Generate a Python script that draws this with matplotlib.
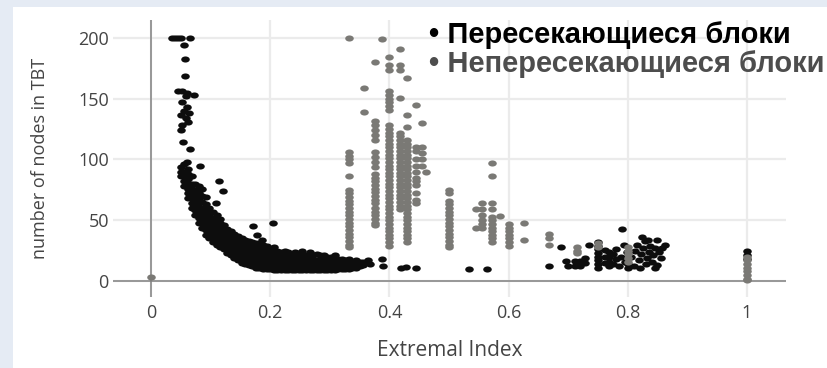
import numpy as np
import matplotlib.pyplot as plt
from matplotlib.path import Path
from matplotlib.patches import Rectangle
from matplotlib.transforms import Affine2D

# intersecting blocks: extremal index vs number of nodes in TBT
hit_head = [
    (0.035, 200), (0.040, 200), (0.045, 200), (0.050, 200), (0.065, 200),
    (0.055, 194), (0.057, 183), (0.057, 169),
    (0.045, 156), (0.052, 156), (0.060, 155), (0.072, 153), (0.058, 152),
    (0.052, 147), (0.060, 143), (0.055, 140), (0.063, 138), (0.050, 137),
    (0.058, 134), (0.062, 131), (0.052, 128), (0.050, 124), (0.053, 114),
    (0.065, 109), (0.060, 98), (0.082, 95), (0.114, 82), (0.121, 74),
    (0.109, 64), (0.205, 48), (0.171, 45), (0.178, 38), (0.186, 34),
]
hit_band = [
    (0.050, [86, 90, 94]),
    (0.056, [78, 82, 86, 90, 96]),
    (0.062, [68, 72, 76, 80, 84, 88, 92]),
    (0.068, [60, 64, 68, 72, 76, 80, 86]),
    (0.074, [54, 58, 62, 66, 70, 75, 80]),
    (0.080, [48, 52, 56, 60, 64, 68, 72, 78]),
    (0.086, [44, 48, 52, 56, 60, 65, 70, 76]),
    (0.092, [38, 42, 46, 50, 54, 58, 63, 69]),
    (0.098, [35, 39, 43, 47, 51, 55, 60]),
    (0.104, [32, 36, 40, 44, 48, 52, 57]),
    (0.110, [30, 34, 38, 42, 46, 50, 54]),
    (0.116, [28, 32, 36, 40, 44, 48, 51]),
    (0.122, [26, 30, 34, 38, 42, 46]),
    (0.128, [23, 27, 31, 35, 39, 43]),
    (0.134, [21, 25, 29, 33, 37, 41]),
    (0.140, [19, 23, 27, 31, 35, 39]),
    (0.146, [17, 21, 25, 29, 33, 37]),
    (0.152, [15, 19, 23, 27, 31, 35]),
    (0.158, [14, 18, 22, 26, 30, 34]),
    (0.164, [13, 17, 21, 25, 29, 33]),
    (0.170, [12, 16, 20, 24, 28, 32]),
    (0.176, [11, 15, 19, 23, 27, 31]),
    (0.182, [11, 15, 19, 23, 27, 30]),
    (0.188, [10, 14, 18, 22, 26, 30]),
    (0.194, [10, 14, 18, 22, 26, 29]),
    (0.200, [10, 14, 18, 22, 26]),
    (0.206, [9, 13, 17, 21, 25, 28]),
    (0.212, [9, 13, 17, 21, 25]),
    (0.218, [9, 13, 17, 21, 24]),
    (0.224, [9, 13, 17, 21, 25]),
    (0.230, [9, 13, 17, 21, 24]),
    (0.236, [9, 13, 17, 21]),
    (0.242, [9, 13, 17, 21, 24]),
    (0.248, [9, 13, 17, 21]),
    (0.254, [9, 13, 17, 21, 25]),
    (0.260, [9, 13, 17, 21]),
    (0.266, [9, 13, 17, 21, 24]),
    (0.272, [9, 13, 17, 21]),
    (0.278, [9, 13, 17, 22]),
    (0.284, [9, 13, 17, 21]),
    (0.290, [9, 13, 17, 21]),
    (0.296, [9, 13, 17, 20]),
    (0.302, [9, 13, 17, 20]),
    (0.308, [9, 13, 17, 21]),
    (0.314, [10, 14, 18]),
    (0.320, [10, 14, 18]),
    (0.326, [10, 14, 17]),
    (0.332, [10, 14, 18]),
    (0.338, [11, 15]),
    (0.344, [11, 15, 17]),
    (0.350, [12, 16]),
    (0.356, [13, 16]),
]
hit_tail = [
    (0.364, 17), (0.368, 14), (0.387, 18), (0.390, 12), (0.420, 10.5),
    (0.428, 11.5), (0.445, 10.7), (0.534, 10), (0.563, 10), (0.667, 12),
    (0.688, 28),
]
hit_right = [
    (0.697, 16.5), (0.700, 12), (0.711, 16.5), (0.711, 12), (0.720, 16.5),
    (0.720, 12), (0.728, 19), (0.728, 14.6), (0.735, 29.6),
    (0.750, 11), (0.750, 14), (0.750, 17), (0.750, 20), (0.750, 23),
    (0.750, 26), (0.750, 29), (0.750, 32),
    (0.762, 25.5), (0.762, 20), (0.762, 15),
    (0.768, 12), (0.768, 16), (0.768, 20), (0.768, 24),
    (0.775, 14), (0.775, 22), (0.780, 18), (0.780, 26), (0.785, 12),
    (0.788, 20), (0.790, 42.8), (0.793, 29.6), (0.795, 16), (0.798, 24),
    (0.800, 11), (0.800, 14), (0.805, 20), (0.810, 12), (0.812, 25),
    (0.815, 30), (0.818, 17), (0.820, 10.7), (0.822, 22), (0.823, 36.5),
    (0.826, 27), (0.828, 33), (0.830, 14), (0.832, 19), (0.834, 33.7),
    (0.836, 24), (0.838, 29), (0.840, 16), (0.842, 21), (0.845, 27),
    (0.849, 33.7), (0.849, 13), (0.852, 24), (0.855, 19), (0.858, 27),
    (0.862, 29.6), (0.845, 11),
    (1.0, 25), (1.0, 21), (1.0, 18),
]

# non-intersecting blocks, stacked by extremal index value
miss_cols = [
    (0.0, [3]),
    (0.333, [200, 106, 103, 100, 97, 86, 75, 72, 69, 66, 63, 60, 57, 54, 51,
             48, 45, 42, 39, 36, 33, 30, 28]),
    (0.358, [159, 139]),
    (0.375, [180, 132, 128, 124, 120, 116, 106, 102, 98, 94, 88, 85, 82, 79,
             76, 73, 70, 67, 64, 60, 57, 54, 51, 48, 46]),
    (0.387, [199]),
    (0.400, [184, 178, 174, 156, 153, 150, 147, 144, 141, 128, 125, 122, 119,
             116, 113, 110, 107, 104, 101, 98, 95, 92, 89, 86, 83, 80, 77, 74,
             71, 68, 65, 62, 59, 56, 53, 50, 47, 44, 41, 38, 35, 32, 29]),
    (0.417, [191, 178, 174, 151, 122, 119, 116, 113, 110, 107, 104, 101, 98,
             95, 92, 89, 86, 83, 80, 77, 74, 71, 68, 65, 62, 59]),
    (0.429, [167, 137, 127, 116, 113, 110, 107, 104, 101, 98, 95, 92, 89, 86,
             83, 80, 77, 74, 71, 68, 65, 62, 59, 56, 53, 50, 47, 44, 41, 38,
             35, 32]),
    (0.445, [145, 110, 107, 100, 95, 90, 85, 82, 79, 72, 67, 64]),
    (0.454, [130, 110, 105, 100, 95]),
    (0.462, [90]),
    (0.500, [75, 72, 66, 63, 60, 57, 54, 51, 48, 45, 42, 39, 36, 33, 30, 28]),
    (0.545, [59, 44]),
    (0.556, [64, 59, 54, 50, 47, 44]),
    (0.572, [97, 86, 64, 59, 53, 50, 47, 44, 41, 38, 35, 32]),
    (0.585, [53.5]),
    (0.600, [47, 44, 41, 38, 35, 32, 29]),
    (0.626, [47.5, 34]),
    (0.667, [39, 35, 30]),
    (0.714, [28, 25, 23]),
    (0.750, [31, 28]),
    (0.800, [28, 25, 22, 19, 16]),
    (1.000, [20, 17, 14, 11, 8, 5, 2, 1]),
]

x_ticks = [0, 0.2, 0.4, 0.6, 0.8, 1]
x_labels = ['0', '0.2', '0.4', '0.6', '0.8', '1']
y_ticks = [0, 50, 100, 150, 200]

hit_pts = hit_head + [(x, y) for x, ys in hit_band for y in ys] + hit_tail + hit_right
hit = np.array(hit_pts, dtype=float)
miss = np.array([(x, y) for x, ys in miss_cols for y in ys], dtype=float)

plt.rcParams['font.family'] = ['Open Sans', 'DejaVu Sans']

W, H = 827, 368
fig = plt.figure(figsize=(W / 100, H / 100), dpi=100, facecolor='#e5ebf4')
fig.patches.append(Rectangle((13 / W, 0), 1 - 13 / W, 1 - 7 / H,
                             transform=fig.transFigure, facecolor='white',
                             edgecolor='none', zorder=-5))

ax = fig.add_axes([113 / W, 1 - 297 / H, (786 - 113) / W, (297 - 20) / H])
ax.set_facecolor('none')
ax.set_xlim(-0.0638, 1.0654)
ax.set_ylim(-13.2, 214.8)
for s in ax.spines.values():
    s.set_visible(False)
ax.grid(True, color='#ebebeb', lw=1.6)
ax.set_axisbelow(True)
ax.axhline(0, color='#808080', lw=1.1, zorder=1)
ax.axvline(0, color='#808080', lw=1.1, zorder=1)

ax.set_xticks(x_ticks)
ax.set_xticklabels(x_labels)
ax.set_yticks(y_ticks)
ax.tick_params(length=0, labelsize=13, labelcolor='#444444')
ax.tick_params(axis='x', pad=5)
ax.tick_params(axis='y', pad=3)

# slightly wide dots
dot = Path.unit_circle().transformed(Affine2D().scale(1.4, 1.0))
ax.scatter(hit[:, 0], hit[:, 1], s=38, marker=dot, color='#0d0d0d',
           linewidths=0, zorder=3)
ax.scatter(miss[:, 0], miss[:, 1], s=38, marker=dot, color='#7a7975',
           linewidths=0, zorder=4)

ax.set_xlabel('Extremal Index', fontsize=15, color='#444444', va='center')
ax.xaxis.set_label_coords(0.5, (297 - 351) / 277)
ax.set_ylabel('number of nodes in TBT', fontsize=13, color='#444444',
              va='center', ha='center')
ax.yaxis.set_label_coords((40 - 113) / 673, 0.5)

fig.text(429 / W, 1 - 43 / H, '• Пересекающиеся блоки', fontsize=21,
         fontweight='bold', family=['Liberation Sans', 'DejaVu Sans'],
         color='#000000', va='baseline', ha='left')
fig.text(429 / W, 1 - 72 / H, '• Непересекающиеся блоки', fontsize=21,
         fontweight='bold', family=['Liberation Sans', 'DejaVu Sans'],
         color='#4d4d4d', va='baseline', ha='left')

fig.savefig('out.png', dpi=100, facecolor=fig.get_facecolor())
